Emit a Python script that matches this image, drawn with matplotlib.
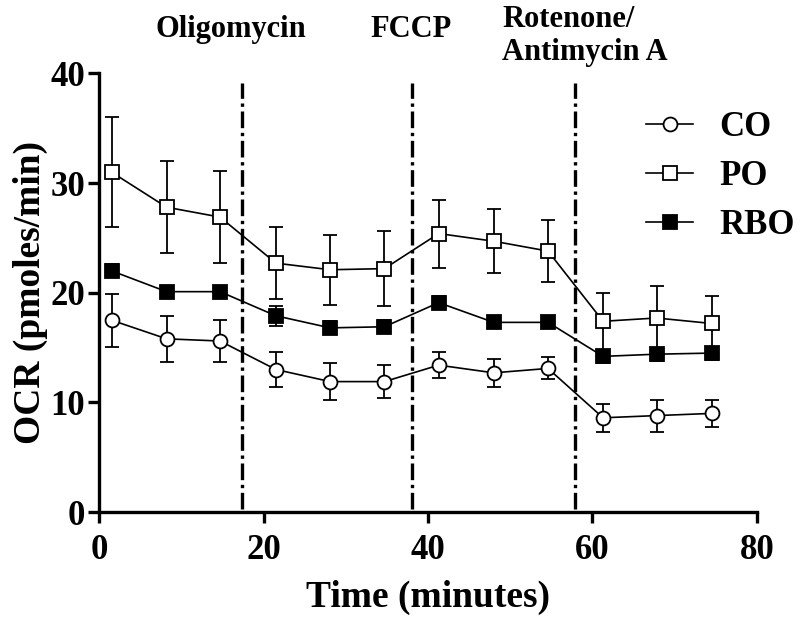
import matplotlib
matplotlib.use("Agg")
import matplotlib.pyplot as plt
from matplotlib.lines import Line2D

plt.rcParams["font.family"] = ["Liberation Serif", "DejaVu Serif"]
plt.rcParams["font.weight"] = "bold"

# 测量时间点 (min)
time = [1.5, 8.2, 14.7, 21.5, 28.1, 34.7, 41.3, 48.0, 54.6, 61.3, 67.8, 74.5]
# 加药时间点 + 标签位置
inject_t = [17.4, 38.1, 57.9]
inject_lab = ["Oligomycin", "FCCP", "Rotenone/\nAntimycin A"]
lab_x = [16.0, 38.0, 49.0]
lab_y = [44.0, 44.0, 43.4]

co = [17.5, 15.8, 15.6, 13.0, 11.9, 11.9, 13.4, 12.7, 13.1, 8.6, 8.8, 9.0]
co_err = [2.4, 2.1, 1.9, 1.6, 1.7, 1.5, 1.2, 1.25, 1.0, 1.3, 1.45, 1.25]
po = [31.0, 27.8, 26.9, 22.7, 22.1, 22.2, 25.4, 24.7, 23.8, 17.4, 17.7, 17.2]
po_err = [5.0, 4.2, 4.2, 3.3, 3.2, 3.4, 3.1, 2.9, 2.8, 2.6, 2.9, 2.5]
rbo = [22.0, 20.1, 20.1, 17.9, 16.8, 16.9, 19.1, 17.3, 17.3, 14.2, 14.4, 14.5]
rbo_err = [0.6, 0.5, 0.5, 0.9, 0.6, 0.6, 0.6, 0.5, 0.5, 0.6, 0.6, 0.6]

fig = plt.figure(figsize=(8, 6.17), dpi=100)
ax = fig.add_axes([0.124, 0.170, 0.822, 0.711])

kw = dict(color="black", lw=1.2, capsize=5, capthick=1.3, elinewidth=1.3, ms=10, mew=1.3, zorder=3)
ax.errorbar(time, co, yerr=co_err, marker="o", mfc="white", **kw)
ax.errorbar(time, po, yerr=po_err, marker="s", mfc="white", **kw)
ax.errorbar(time, rbo, yerr=rbo_err, marker="s", mfc="black", **kw)

for t in inject_t:
    ax.vlines(t, 0.3, 39.1, color="black", lw=2.4, linestyles=(0, (5, 1.4, 1, 1.4)), zorder=1)
for x, y, lab in zip(lab_x, lab_y, inject_lab):
    ha = "left" if "\n" in lab else "center"
    ax.text(x, y, lab, ha=ha, va="center", fontsize=22, fontweight="bold",
            linespacing=1.2, clip_on=False)

ax.set_xlim(0, 80)
ax.set_ylim(0, 40)
ax.set_xticks([0, 20, 40, 60, 80])
ax.set_yticks([0, 10, 20, 30, 40])
for s in ["top", "right"]:
    ax.spines[s].set_visible(False)
for s in ["left", "bottom"]:
    ax.spines[s].set_linewidth(2.4)
ax.tick_params(width=2.4, length=8, labelsize=25, direction="out")
ax.tick_params(axis="x", pad=8)
ax.tick_params(axis="y", pad=2)
ax.set_xlabel("Time (minutes)", fontsize=27, fontweight="bold", labelpad=9)
ax.set_ylabel("OCR (pmoles/min)", fontsize=27, fontweight="bold", labelpad=2)

handles = [
    Line2D([], [], color="black", lw=1.2, marker="o", mfc="white", ms=10, mew=1.3),
    Line2D([], [], color="black", lw=1.2, marker="s", mfc="white", ms=10, mew=1.3),
    Line2D([], [], color="black", lw=1.2, marker="s", mfc="black", ms=10, mew=1.3),
]
ax.legend(handles, ["CO", "PO", "RBO"], loc="center left", bbox_to_anchor=(0.811, 0.765),
          borderaxespad=0, frameon=False, fontsize=25, handlelength=1.35,
          handletextpad=0.75, labelspacing=0.46)

fig.savefig("out.png", dpi=100)
